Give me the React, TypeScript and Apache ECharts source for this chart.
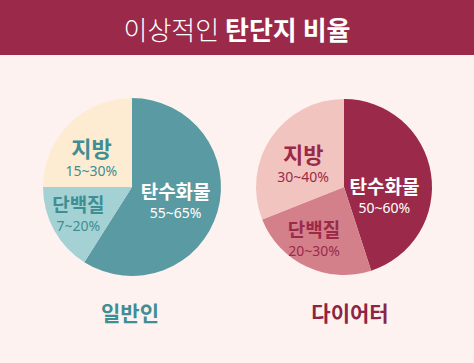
import React, { useEffect, useRef } from "react";
import * as echarts from "echarts";

const titleLight = "이상적인 ";
const titleBold = "탄단지 비율";
const groupNames = ["일반인", "다이어터"];
const nutrients = ["탄수화물", "단백질", "지방"];
const generalValues = [59, 16, 25];
const generalRanges = ["55~65%", "7~20%", "15~30%"];
const dieterValues = [45, 24, 31];
const dieterRanges = ["50~60%", "20~30%", "30~40%"];

const FONT = "'Noto Sans CJK KR', 'Noto Sans', sans-serif";
const NUMFONT = "'Noto Sans', 'Noto Sans CJK KR', sans-serif";

export default function App() {
  const ref = useRef<HTMLDivElement>(null);
  useEffect(() => {
    if (!ref.current) return;
    const chart = echarts.init(ref.current, null, { renderer: "svg" });

    const mkRich = (nameColor: string, nameSize: number) => ({
      n: { fontFamily: FONT, fontWeight: "bold", fontSize: nameSize, color: nameColor, lineHeight: nameSize + 9 },
      p: { fontFamily: NUMFONT, fontSize: 14, color: nameColor, lineHeight: 16 },
    });

    const generalColors = ["#5a9aa2", "#a4d1d3", "#fdebd2"];
    const generalText = ["#ffffff", "#3f8e93", "#3f8e93"];
    const generalOffsets = [[-2, -2], [-12, 2], [-7, 2]];
    const dieterColors = ["#9b2a4a", "#d4808b", "#f2c4bf"];
    const dieterText = ["#ffffff", "#9b2a4a", "#9b2a4a"];
    const dieterOffsets = [[-6, 14], [-10, 7], [-2, 0]];

    const buildData = (vals: number[], ranges: string[], colors: string[], texts: string[], offs: number[][]) =>
      nutrients.map((name, i) => ({
        name,
        value: vals[i],
        itemStyle: { color: colors[i] },
        label: {
          offset: offs[i],
          formatter: `{n|${name}}\n{p|${ranges[i]}}`,
          rich: mkRich(texts[i], i === 2 ? 22 : 19),
        },
      }));

    chart.setOption({
      animation: false,
      backgroundColor: "#fdf2f0",
      graphic: [
        { type: "rect", shape: { x: 0, y: 0, width: 474, height: 55 }, style: { fill: "#9b2a4a" } },
        {
          type: "text",
          x: 237,
          y: 28,
          style: {
            text: `{l|${titleLight}}{b|${titleBold}}`,
            align: "center",
            verticalAlign: "middle",
            rich: {
              l: { fontFamily: FONT, fontSize: 26, fontWeight: 300, fill: "#ffffff" },
              b: { fontFamily: FONT, fontSize: 26, fontWeight: "bold", fill: "#ffffff" },
            },
          },
        },
        {
          type: "text",
          x: 130,
          y: 312,
          style: { text: groupNames[0], align: "center", verticalAlign: "middle", fontFamily: FONT, fontSize: 21, fontWeight: "bold", fill: "#3f8e93" },
        },
        {
          type: "text",
          x: 350,
          y: 312,
          style: { text: groupNames[1], align: "center", verticalAlign: "middle", fontFamily: FONT, fontSize: 21, fontWeight: "bold", fill: "#8e2444" },
        },
      ],
      series: [
        {
          type: "pie",
          center: [132, 187],
          radius: 89,
          startAngle: 90,
          clockwise: true,
          label: { show: true, position: "inside", align: "center" },
          labelLine: { show: false },
          labelLayout: { hideOverlap: false },
          emphasis: { disabled: true },
          data: buildData(generalValues, generalRanges, generalColors, generalText, generalOffsets),
        },
        {
          type: "pie",
          center: [344, 187],
          radius: 88,
          startAngle: 90,
          clockwise: true,
          label: { show: true, position: "inside", align: "center" },
          labelLine: { show: false },
          labelLayout: { hideOverlap: false },
          emphasis: { disabled: true },
          data: buildData(dieterValues, dieterRanges, dieterColors, dieterText, dieterOffsets),
        },
      ],
    });
    return () => chart.dispose();
  }, []);
  return <div ref={ref} style={{ position: "fixed", left: 0, top: 0, width: 474, height: 363 }} />;
}
